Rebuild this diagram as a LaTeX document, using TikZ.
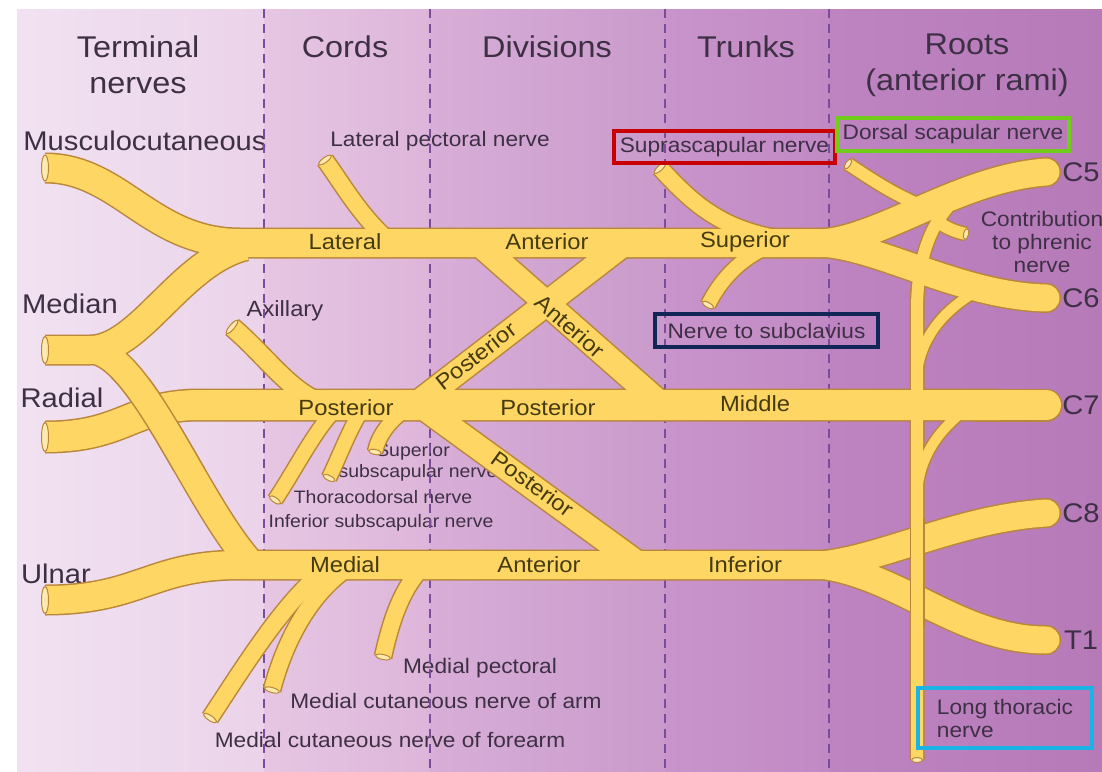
\documentclass[tikz,border=0pt]{standalone}
\usepackage{fontspec}
\setmainfont{Liberation Sans}[FakeStretch=1.08]
\usetikzlibrary{shapes.geometric}
\definecolor{nyel}{HTML}{FDD663}
\definecolor{nbrn}{HTML}{BA863A}
\definecolor{ncut}{HTML}{FEEAAE}
\definecolor{txtc}{HTML}{3E3044}
\definecolor{ntxt}{HTML}{463A10}
\definecolor{dashc}{HTML}{7C4C9C}
\definecolor{bred}{HTML}{C80000}
\definecolor{bgreen}{HTML}{72CC1A}
\definecolor{bnavy}{HTML}{0F2657}
\definecolor{bcyan}{HTML}{1BB2E6}
\tikzset{
  ow/.style={draw=nbrn, line width=#1pt+3pt},
  fw/.style={draw=nyel, line width=#1pt},
  cutend/.style={ellipse, draw=nbrn, fill=ncut, line width=1pt, inner sep=0pt, minimum width=5pt},
  hd/.style={text=txtc, font=\fontsize{30}{36}\selectfont, inner sep=0pt, align=center},
  tl/.style={text=txtc, font=\fontsize{27}{30}\selectfont, inner sep=0pt},
  sl/.style={text=txtc, font=\fontsize{21}{23}\selectfont, inner sep=0pt, align=center},
  xl/.style={text=txtc, font=\fontsize{18}{20}\selectfont, inner sep=0pt},
  nl/.style={text=ntxt, font=\fontsize{22}{24}\selectfont, inner sep=0pt},
  dashline/.style={draw=dashc, line width=2pt, dash pattern=on 9pt off 6pt},
  hbox/.style={line width=4pt, inner sep=0pt, text=txtc, font=\fontsize{21}{23}\selectfont}
}
\newcommand\nervenet[1]{%
 \draw[#1=28] (45,168) .. controls (120,168) and (150,243) .. (240,243) -- (850,243);
 \draw[#1=27,line cap=round] (820,243) .. controls (880,240) and (960,178) .. (1046,172);
 \draw[#1=27,line cap=round] (820,243) .. controls (880,246) and (960,296) .. (1046,298);
 \draw[#1=30] (45,437) .. controls (125,437) and (130,405) .. (200,405) -- (1000,405);
 \draw[#1=30,line cap=round] (980,405) -- (1046,405);
 \draw[#1=28] (45,600) .. controls (140,600) and (150,565) .. (240,565) -- (850,565);
 \draw[#1=27,line cap=round] (820,565) .. controls (880,560) and (960,518) .. (1046,513);
 \draw[#1=27,line cap=round] (820,565) .. controls (900,575) and (960,640) .. (1046,640);
 \draw[#1=28] (45,350) -- (90,350) .. controls (140,350) and (180,262) .. (245,246);
 \draw[#1=26] (90,350) .. controls (140,352) and (195,500) .. (250,562);
 \draw[#1=24] (478,243) -- (662,405);
 \draw[#1=24] (625,243) -- (415,405);
 \draw[#1=24] (420,405) -- (640,565);
 \draw[#1=16] (325,160) .. controls (345,188) and (360,215) .. (388,240);
 \draw[#1=18] (232,327) .. controls (265,355) and (290,392) .. (322,403);
 \draw[#1=16] (660,168) .. controls (690,200) and (720,232) .. (790,240);
 \draw[#1=14] (708,305) .. controls (718,285) and (735,262) .. (765,248);
 \draw[#1=12] (848,164) .. controls (868,177) and (888,191) .. (915,203);
 \draw[#1=14] (375,452) .. controls (378,437) and (388,422) .. (405,410);
 \draw[#1=14] (329,478) .. controls (340,455) and (350,428) .. (362,410);
 \draw[#1=14] (275,500) .. controls (295,470) and (315,430) .. (335,410);
 \draw[#1=16] (210,718) .. controls (245,665) and (285,600) .. (325,570);
 \draw[#1=16] (272,690) .. controls (285,640) and (310,595) .. (345,570);
 \draw[#1=16] (383,657) .. controls (390,625) and (400,592) .. (420,570);
 \draw[#1=12] (948,207) .. controls (930,228) and (917,260) .. (917,310) -- (917,760);
 \draw[#1=12] (938,222) .. controls (945,227) and (955,232) .. (966,234);
 \draw[#1=10] (975,292) .. controls (945,310) and (922,335) .. (917,372);
 \draw[#1=10] (968,408) .. controls (940,428) and (920,455) .. (917,492);
}
\begin{document}
\begin{tikzpicture}[x=1pt,y=-1pt]
\useasboundingbox (0,0) rectangle (1102,771);
\fill[white] (0,0) rectangle (1102,771);
% columns
\shade[left color={rgb,255:red,241;green,226;blue,241}, right color={rgb,255:red,235;green,211;blue,234}] (17,9) rectangle (264,771);
\shade[left color={rgb,255:red,230;green,198;blue,227}, right color={rgb,255:red,221;green,181;blue,218}] (264,9) rectangle (430,771);
\shade[left color={rgb,255:red,216;green,174;blue,216}, right color={rgb,255:red,201;green,154;blue,203}] (430,9) rectangle (665,771);
\shade[left color={rgb,255:red,201;green,147;blue,203}, right color={rgb,255:red,193;green,138;blue,196}] (665,9) rectangle (829,771);
\shade[left color={rgb,255:red,190;green,131;blue,193}, right color={rgb,255:red,182;green,122;blue,185}] (829,9) rectangle (1102,771);
% headers
\node[hd] (hterm) at (138,65) {Terminal\\nerves};
\node[hd] (hcords) at (345,47) {Cords};
\node[hd] (hdiv) at (547,47) {Divisions};
\node[hd] (htr) at (746,47) {Trunks};
\node[hd] (hroots) at (967,65) {Roots\\(anterior rami)};
% terminal names
\node[tl] (musc) at (145,141) {Musculocutaneous};
\node[tl] (med) at (70,304) {Median};
\node[tl] (rad) at (62,398) {Radial};
\node[tl] (uln) at (56,574) {Ulnar};
% small labels
\node[sl] (latpec) at (440,141) {Lateral pectoral nerve};
\node[sl, font=\fontsize{22}{24}\selectfont] (axil) at (285,311) {Axillary};
\node[xl] (supsub) at (413,452) {Superior};
\node[xl] (supsub2) at (418,473) {subscapular nerve};
\node[xl] (thor) at (383,497) {Thoracodorsal nerve};
\node[xl] (infsub) at (381,523) {Inferior subscapular nerve};
\node[sl] (medpec) at (480,668) {Medial pectoral};
\node[sl] (medarm) at (446,701) {Medial cutaneous nerve of arm};
\node[sl] (medfor) at (390,740) {Medial cutaneous nerve of forearm};
\node[sl] (phren) at (1042,242) {Contribution\\to phrenic\\nerve};
\node[tl] (c5) at (1081,172) {C5};
\node[tl] (c6) at (1081,298) {C6};
\node[tl] (c7) at (1081,405) {C7};
\node[tl] (c8) at (1081,513) {C8};
\node[tl] (t1) at (1081,640) {T1};
% dashed column lines
\draw[dashline] (264,9) -- (264,771);
\draw[dashline] (430,9) -- (430,771);
\draw[dashline] (665,9) -- (665,771);
\draw[dashline] (829,9) -- (829,771);
% nerves
\nervenet{ow}
\nervenet{fw}
\begin{scope}
 \clip (105,378) rectangle (205,470);
 \draw[ow=26] (90,350) .. controls (140,352) and (195,500) .. (250,562);
 \draw[fw=26] (90,350) .. controls (140,352) and (195,500) .. (250,562);
\end{scope}
\begin{scope}
 \clip (898,518) rectangle (936,626);
 \draw[ow=12] (917,500) -- (917,640);
 \draw[fw=12] (917,500) -- (917,640);
\end{scope}
% cut ends
\node[cutend, minimum width=7pt, minimum height=26pt] at (45,168) {};
\node[cutend, minimum width=7pt, minimum height=27pt] at (45,350) {};
\node[cutend, minimum width=7pt, minimum height=29pt] at (45,437) {};
\node[cutend, minimum width=7pt, minimum height=27pt] at (45,600) {};
\node[cutend, minimum height=15pt, rotate=-54] at (325,160) {};
\node[cutend, minimum height=17pt, rotate=-40] at (232,327) {};
\node[cutend, minimum height=15pt, rotate=-47] at (660,168) {};
\node[cutend, minimum height=13pt, rotate=60] at (708,305) {};
\node[cutend, minimum height=11pt, rotate=-33] at (848,164) {};
\node[cutend, minimum height=13pt, rotate=78] at (375,452) {};
\node[cutend, minimum height=13pt, rotate=64] at (329,478) {};
\node[cutend, minimum height=13pt, rotate=56] at (275,500) {};
\node[cutend, minimum height=15pt, rotate=56] at (210,718) {};
\node[cutend, minimum height=15pt, rotate=75] at (272,690) {};
\node[cutend, minimum height=15pt, rotate=78] at (383,657) {};
\node[cutend, minimum height=11pt, rotate=-12] at (966,234) {};
\node[cutend, minimum height=11pt, rotate=90] at (917,760) {};
% nerve labels
\node[nl] (lat) at (345,242) {Lateral};
\node[nl] (ant1) at (547,242) {Anterior};
\node[nl] (sup) at (745,242) {Superior};
\node[nl] (post1) at (346,408) {Posterior};
\node[nl] (post2) at (548,408) {Posterior};
\node[nl] (mid) at (755,404) {Middle};
\node[nl] (medl) at (345,565) {Medial};
\node[nl] (ant2) at (539,565) {Anterior};
\node[nl] (inf) at (745,565) {Inferior};
\node[nl, rotate=-41] (antd) at (570,326) {Anterior};
\node[nl, rotate=38] (postd1) at (476,356) {Posterior};
\node[nl, rotate=-36] (postd2) at (533,484) {Posterior};
% boxes
\node[hbox, draw=bred, minimum width=221pt, minimum height=32pt] (supra) at (724.5,147) {Suprascapular nerve};
\node[hbox, draw=bgreen, minimum width=232pt, minimum height=33pt] (dors) at (953,134.5) {Dorsal scapular nerve};
\node[hbox, draw=bnavy, minimum width=223pt, minimum height=33pt] (subcl) at (766.5,330.5) {Nerve to subclavius};
\node[hbox, draw=bcyan, minimum width=174pt, minimum height=60pt, align=left] (longt) at (1005,718) {Long thoracic\\nerve};
\end{tikzpicture}
\end{document}
